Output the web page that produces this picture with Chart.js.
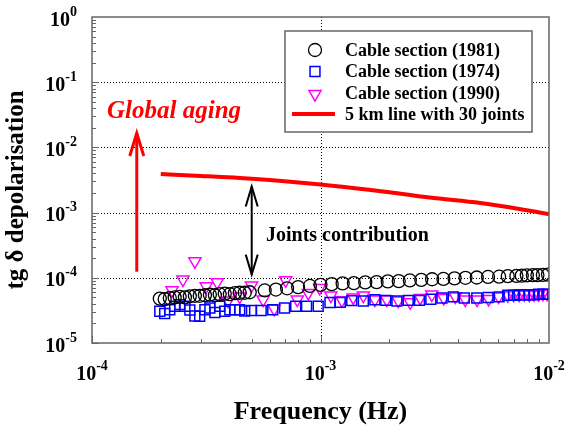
<!DOCTYPE html>
<html>
<head>
<meta charset="utf-8">
<script src="https://cdn.jsdelivr.net/npm/chart.js@4.4.1/dist/chart.umd.min.js"></script>
<style>
  html, body { margin: 0; padding: 0; background: #fff; }
</style>
</head>
<body>
<canvas id="chart" width="568" height="429"></canvas>
<script>
// Cable section (1981) - open circles
const freq1981 = [1.98e-4, 2.08e-4, 2.19e-4, 2.30e-4, 2.42e-4, 2.55e-4, 2.68e-4, 2.82e-4, 2.96e-4, 3.12e-4,
  3.28e-4, 3.45e-4, 3.62e-4, 3.81e-4, 4.01e-4, 4.22e-4, 4.43e-4, 4.66e-4, 4.90e-4, 5.70e-4,
  6.38e-4, 7.14e-4, 7.98e-4, 8.99e-4, 1.00e-3, 1.12e-3, 1.25e-3, 1.40e-3, 1.57e-3, 1.76e-3,
  1.97e-3, 2.20e-3, 2.46e-3, 2.76e-3, 3.08e-3, 3.45e-3, 3.86e-3, 4.31e-3, 4.83e-3, 5.41e-3,
  6.05e-3, 6.6e-3, 7.2e-3, 7.6e-3, 8.0e-3, 8.5e-3, 8.9e-3, 9.4e-3, 9.9e-3];
const tan1981 = [4.8e-5, 4.7e-5, 4.9e-5, 5.0e-5, 5.1e-5, 5.0e-5, 5.2e-5, 5.3e-5, 5.3e-5, 5.4e-5,
  5.5e-5, 5.4e-5, 5.6e-5, 5.7e-5, 5.6e-5, 5.8e-5, 5.9e-5, 5.9e-5, 6.0e-5, 6.4e-5,
  6.6e-5, 6.9e-5, 7.2e-5, 7.5e-5, 7.8e-5, 8.0e-5, 8.2e-5, 8.3e-5, 8.5e-5, 8.6e-5,
  8.8e-5, 8.9e-5, 9.1e-5, 9.3e-5, 9.5e-5, 9.6e-5, 9.8e-5, 1.0e-4, 1.01e-4, 1.03e-4,
  1.04e-4, 1.06e-4, 1.07e-4, 1.08e-4, 1.09e-4, 1.10e-4, 1.10e-4, 1.11e-4, 1.12e-4];

// Cable section (1974) - open squares
const freq1974 = [1.98e-4, 2.08e-4, 2.19e-4, 2.30e-4, 2.42e-4, 2.55e-4, 2.68e-4, 2.82e-4, 2.96e-4, 3.12e-4,
  3.28e-4, 3.45e-4, 3.62e-4, 3.81e-4, 4.01e-4, 4.22e-4, 4.43e-4, 4.66e-4, 4.99e-4, 5.5e-4,
  6.18e-4, 6.96e-4, 7.79e-4, 8.69e-4, 9.77e-4, 1.10e-3, 1.22e-3, 1.37e-3, 1.54e-3, 1.73e-3,
  1.93e-3, 2.16e-3, 2.42e-3, 2.71e-3, 3.04e-3, 3.40e-3, 3.81e-3, 4.26e-3, 4.83e-3, 5.41e-3,
  6.05e-3, 6.6e-3, 7.0e-3, 7.4e-3, 7.8e-3, 8.2e-3, 8.6e-3, 9.0e-3, 9.4e-3, 9.8e-3];
const tan1974 = [3.07e-5, 2.83e-5, 3.24e-5, 3.66e-5, 3.88e-5, 3.66e-5, 3.2e-5, 2.6e-5, 2.57e-5, 3.24e-5,
  3.45e-5, 2.93e-5, 3.66e-5, 3.07e-5, 3.24e-5, 3.24e-5, 3.24e-5, 3.1e-5, 3.15e-5, 3.15e-5,
  3.24e-5, 3.45e-5, 3.66e-5, 3.66e-5, 3.66e-5, 4.17e-5, 4.2e-5, 4.47e-5, 4.4e-5, 4.6e-5,
  4.5e-5, 4.4e-5, 4.5e-5, 4.5e-5, 4.7e-5, 4.9e-5, 5.1e-5, 4.9e-5, 4.9e-5, 5.0e-5,
  5.1e-5, 5.4e-5, 5.4e-5, 5.5e-5, 5.5e-5, 5.5e-5, 5.5e-5, 5.6e-5, 5.6e-5, 5.6e-5];

// Cable section (1990) - open down triangles
const freq1990 = [2.24e-4, 2.50e-4, 2.82e-4, 3.16e-4, 3.53e-4, 3.94e-4, 4.43e-4, 4.99e-4, 5.61e-4, 6.27e-4,
  7.04e-4, 7.91e-4, 8.84e-4, 9.92e-4, 1.11e-3, 1.24e-3, 1.39e-3, 1.54e-3, 1.73e-3, 1.95e-3,
  2.19e-3, 2.47e-3, 2.73e-3, 3.07e-3, 3.46e-3, 3.89e-3, 4.30e-3, 4.84e-3, 5.44e-3, 6.02e-3,
  6.6e-3, 7.0e-3, 7.4e-3, 7.8e-3, 8.2e-3, 8.6e-3, 9.0e-3, 9.4e-3, 9.8e-3];
const tan1990 = [6.44e-5, 9.4e-5, 1.79e-4, 7.41e-5, 8.53e-5, 4.48e-5, 5.15e-5, 7.6e-5, 4.64e-5, 3.34e-5,
  9.16e-5, 4.64e-5, 5.87e-5, 7.0e-5, 5.33e-5, 4.52e-5, 5.0e-5, 5.33e-5, 4.64e-5, 4.64e-5,
  4.48e-5, 4.21e-5, 4.92e-5, 5.53e-5, 4.92e-5, 5.15e-5, 4.64e-5, 4.64e-5, 4.75e-5, 5.15e-5,
  5.4e-5, 5.5e-5, 5.5e-5, 5.6e-5, 5.5e-5, 5.6e-5, 5.6e-5, 5.7e-5, 5.7e-5];

// 5 km line with 30 joints - red line
const freqLine = [2e-4, 3e-4, 5e-4, 1e-3, 2e-3, 3e-3, 5e-3, 7e-3, 1e-2];
const tanLine = [3.9e-3, 3.65e-3, 3.3e-3, 2.7e-3, 2.05e-3, 1.7e-3, 1.4e-3, 1.18e-3, 9.5e-4];

const xTicks = [1e-4, 1e-3, 1e-2];
const yTicks = [1e-5, 1e-4, 1e-3, 1e-2, 1e-1, 1];
const legendLabels = ['Cable section (1981)', 'Cable section (1974)', 'Cable section (1990)', '5 km line with 30 joints'];

const serif = '"Liberation Serif", "Times New Roman", serif';
const toPoints = (xs, ys) => xs.map((f, i) => ({x: f, y: ys[i]}));

function line(ctx, x1, y1, x2, y2) {
  ctx.beginPath(); ctx.moveTo(x1, y1); ctx.lineTo(x2, y2); ctx.stroke();
}

function arrowHead(ctx, x, y, dir, dx, dy) {
  ctx.beginPath();
  ctx.moveTo(x - dx, y + dir * dy);
  ctx.lineTo(x, y);
  ctx.lineTo(x + dx, y + dir * dy);
  ctx.stroke();
}

// "10" with a superscript exponent; align 'center' or 'right'
function drawPower(ctx, px, baseline, exp, align) {
  ctx.font = 'bold 20px ' + serif;
  const wb = ctx.measureText('10').width;
  ctx.font = 'bold 14px ' + serif;
  const we = ctx.measureText(exp).width;
  const start = align === 'center' ? px - (wb + we) / 2 : px - wb - we;
  ctx.textAlign = 'left';
  ctx.textBaseline = 'alphabetic';
  ctx.font = 'bold 20px ' + serif;
  ctx.fillText('10', start, baseline);
  ctx.font = 'bold 14px ' + serif;
  ctx.fillText(exp, start + wb, baseline - 10);
}

const decorations = {
  id: 'decorations',
  beforeDatasetsDraw(chart) {
    const {ctx, chartArea: a, scales: {x, y}} = chart;
    ctx.save();
    ctx.strokeStyle = '#000';
    ctx.lineWidth = 1;
    ctx.setLineDash([1, 2]);
    xTicks.slice(1, -1).forEach(v => {
      const px = Math.round(x.getPixelForValue(v)) + 0.5;
      line(ctx, px, a.top, px, a.bottom);
    });
    yTicks.slice(1, -1).forEach(v => {
      const py = Math.round(y.getPixelForValue(v)) + 0.5;
      line(ctx, a.left, py, a.right, py);
    });
    ctx.restore();
  },
  afterDatasetsDraw(chart) {
    const {ctx, chartArea: a, scales: {x, y}} = chart;
    ctx.save();

    // frame
    ctx.strokeStyle = '#666';
    ctx.lineWidth = 1.5;
    ctx.strokeRect(a.left, a.top, a.right - a.left, a.bottom - a.top);

    // inside ticks, major and minor
    ctx.lineWidth = 1;
    for (let e = -4; e < -2; e++) {
      for (let m = 1; m < 10; m++) {
        const px = Math.round(x.getPixelForValue(m * Math.pow(10, e))) + 0.5;
        line(ctx, px, a.bottom, px, a.bottom - (m === 1 ? 7 : 4));
      }
    }
    for (let e = -5; e < 0; e++) {
      for (let m = 1; m < 10; m++) {
        const py = Math.round(y.getPixelForValue(m * Math.pow(10, e))) + 0.5;
        line(ctx, a.left, py, a.left + (m === 1 ? 7 : 4), py);
      }
    }

    // tick labels
    ctx.fillStyle = '#000';
    xTicks.forEach(v => drawPower(ctx, x.getPixelForValue(v), a.bottom + 37, String(Math.round(Math.log10(v))), 'center'));
    yTicks.forEach(v => drawPower(ctx, 77, y.getPixelForValue(v) + 8.5, String(Math.round(Math.log10(v))), 'right'));

    // y axis title
    ctx.save();
    ctx.translate(17, 190);
    ctx.rotate(-Math.PI / 2);
    ctx.font = 'bold 25px ' + serif;
    ctx.textAlign = 'center';
    ctx.textBaseline = 'middle';
    ctx.fillText('tg δ depolarisation', 0, 0);
    ctx.restore();

    // legend box
    const lx = 285, ly = 31, lw = 247, lh = 101;
    ctx.fillStyle = '#fff';
    ctx.fillRect(lx, ly, lw, lh);
    ctx.strokeStyle = '#666';
    ctx.lineWidth = 1.5;
    ctx.strokeRect(lx, ly, lw, lh);
    const rows = [50, 71.5, 93, 114];
    chart.data.datasets.forEach((ds, i) => {
      const ry = rows[i];
      if (ds.showLine) {
        ctx.strokeStyle = ds.borderColor;
        ctx.lineWidth = ds.borderWidth;
        line(ctx, 292, ry, 335, ry);
      } else {
        ctx.fillStyle = 'rgba(0,0,0,0)';
        ctx.strokeStyle = ds.borderColor;
        ctx.lineWidth = ds.borderWidth;
        Chart.helpers.drawPoint(ctx, {
          pointStyle: ds.pointStyle, radius: ds.pointRadius, rotation: ds.rotation || 0,
          borderWidth: ds.borderWidth
        }, 315, ry + (ds.rotation ? 1 : 0));
      }
      ctx.fillStyle = '#000';
      ctx.font = 'bold 18px ' + serif;
      ctx.textAlign = 'left';
      ctx.textBaseline = 'middle';
      ctx.fillText(legendLabels[i], 345, ry + 1);
    });

    // global aging arrow
    const gx = x.getPixelForValue(1.57e-4);
    const gTop = y.getPixelForValue(1.66e-2), gBot = y.getPixelForValue(1.24e-4);
    ctx.strokeStyle = '#ff0000';
    ctx.lineWidth = 3;
    line(ctx, gx, gBot, gx, gTop + 1);
    arrowHead(ctx, gx, gTop, 1, 7, 23);
    ctx.fillStyle = '#ff0000';
    ctx.font = 'italic bold 25px ' + serif;
    ctx.textAlign = 'left';
    ctx.textBaseline = 'alphabetic';
    ctx.fillText('Global aging', 107, 118);

    // joints contribution arrow
    const jx = x.getPixelForValue(5e-4);
    const jTop = y.getPixelForValue(2.52e-3), jBot = y.getPixelForValue(1.12e-4);
    ctx.strokeStyle = '#000';
    ctx.lineWidth = 2;
    line(ctx, jx, jTop, jx, jBot);
    arrowHead(ctx, jx, jTop, 1, 6, 20);
    arrowHead(ctx, jx, jBot, -1, 6, 20);
    ctx.fillStyle = '#000';
    ctx.font = 'bold 20px ' + serif;
    ctx.fillText('Joints contribution', 266, 241);

    ctx.restore();
  }
};

new Chart(document.getElementById('chart'), {
  type: 'scatter',
  data: {
    datasets: [
      {
        label: legendLabels[0],
        data: toPoints(freq1981, tan1981),
        pointStyle: 'circle',
        pointRadius: 6.5,
        borderColor: '#000',
        backgroundColor: 'rgba(0,0,0,0)',
        borderWidth: 1.3,
        showLine: false
      },
      {
        label: legendLabels[1],
        data: toPoints(freq1974, tan1974),
        pointStyle: 'rect',
        pointRadius: 7,
        borderColor: '#0000ff',
        backgroundColor: 'rgba(0,0,0,0)',
        borderWidth: 1.5,
        showLine: false
      },
      {
        label: legendLabels[2],
        data: toPoints(freq1990, tan1990),
        pointStyle: 'triangle',
        rotation: 180,
        pointRotation: 180,
        pointRadius: 7,
        borderColor: '#ff00ff',
        backgroundColor: 'rgba(0,0,0,0)',
        borderWidth: 1.5,
        showLine: false
      },
      {
        label: legendLabels[3],
        data: toPoints(freqLine, tanLine),
        showLine: true,
        pointRadius: 0,
        borderColor: '#ff0000',
        borderWidth: 4,
        cubicInterpolationMode: 'monotone'
      }
    ]
  },
  options: {
    responsive: false,
    animation: false,
    devicePixelRatio: 1,
    layout: { padding: { top: 17, right: 19, left: 0, bottom: 0 } },
    plugins: { legend: { display: false }, tooltip: { enabled: false } },
    scales: {
      x: {
        type: 'logarithmic',
        min: 1e-4,
        max: 1e-2,
        grid: { display: false },
        border: { display: false },
        ticks: { display: false },
        title: {
          display: true,
          text: 'Frequency (Hz)',
          color: '#000',
          font: { family: serif, size: 26, weight: 'bold' },
          padding: { top: 0, bottom: 1 }
        },
        afterFit: s => { s.height = 86; }
      },
      y: {
        type: 'logarithmic',
        min: 1e-5,
        max: 1,
        grid: { display: false },
        border: { display: false },
        ticks: { display: false },
        title: { display: false },
        afterFit: s => { s.width = 92; }
      }
    }
  },
  plugins: [decorations]
});
</script>
</body>
</html>
